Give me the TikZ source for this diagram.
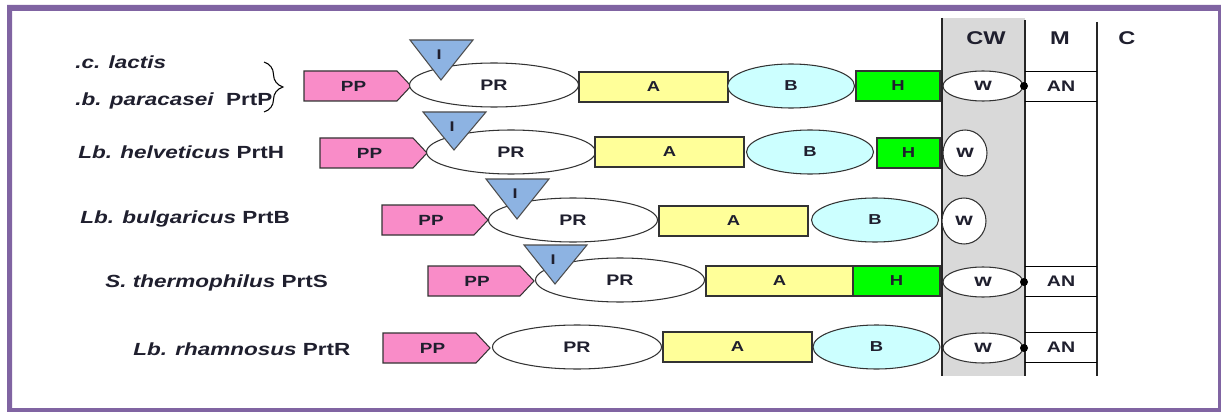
\documentclass[tikz,border=0pt]{standalone}
\usepackage{fontspec}
\setmainfont{Liberation Sans}[FakeStretch=1.28]
\usetikzlibrary{shapes.geometric,decorations.pathreplacing}

\definecolor{framepurple}{HTML}{8064A2}
\definecolor{ppink}{HTML}{F98CC8}
\definecolor{iblue}{HTML}{8DB3E2}
\definecolor{ayellow}{HTML}{FFFF99}
\definecolor{bcyan}{HTML}{CCFFFF}
\definecolor{hgreen}{HTML}{00FF00}
\definecolor{wallgray}{HTML}{D9D9D9}
\definecolor{ink}{HTML}{1F1F2E}

% pro-peptide: arrow-shaped box, left edge, end of the straight part, centre line
\newcommand\ppshape[4]{%
  \draw[ppfill] (#2,#4-15) -- (#3,#4-15) -- (#3+14,#4) -- (#3,#4+15) -- (#2,#4+15) -- cycle;
  \node[lbl] (#1) at ({(#2+#3)/2+3},#4) {PP};}
% insert domain: downward triangle, top-left corner, width, apex height
\newcommand\idomain[4]{%
  \draw[ifill] (#2,#3) -- (#2+63,#3) -- (#2+31,#3+#4) -- cycle;
  \node[lbl,font=\bfseries\fontsize{8}{9}\selectfont] (#1) at (#2+29,#3+15) {I};}

\begin{document}
\begin{tikzpicture}[x=0.02cm,y=-0.02cm,
  every node/.style={text=ink},
  lbl/.style={inner sep=0pt,font=\bfseries\fontsize{8.4}{9}\selectfont},
  part/.style={draw=black!80,line width=0.6pt,inner sep=0pt,
    font=\bfseries\fontsize{8.2}{9}\selectfont},
  ppfill/.style={draw=black!80,line width=0.6pt,fill=ppink},
  ifill/.style={draw=black!70,line width=0.6pt,fill=iblue},
  prdom/.style={part,ellipse,fill=white,minimum width=3.38cm,minimum height=0.88cm,
    font=\bfseries\fontsize{8.7}{9}\selectfont},
  adom/.style={part,rectangle,fill=ayellow,minimum width=2.98cm,minimum height=0.6cm},
  bdom/.style={part,ellipse,fill=bcyan,minimum width=2.54cm,minimum height=0.88cm},
  hdom/.style={part,rectangle,fill=hgreen,minimum height=0.6cm},
  wdom/.style={part,ellipse,fill=white,minimum width=1.6cm,minimum height=0.6cm,
    font=\bfseries\fontsize{10}{11}\selectfont},
  wround/.style={part,ellipse,fill=white,minimum width=0.88cm,minimum height=0.92cm,
    font=\bfseries\fontsize{10}{11}\selectfont},
  anbox/.style={inner sep=0pt,font=\bfseries\fontsize{8.7}{9}\selectfont,
    minimum width=1.44cm,minimum height=0.58cm},
  anchordot/.style={circle,fill=black,inner sep=0pt,minimum size=0.16cm},
  species/.style={anchor=west,inner sep=0pt,font=\bfseries\fontsize{10}{12}\selectfont},
  header/.style={inner sep=0pt,font=\bfseries\fontsize{10.5}{12}\selectfont},
  layer/.style={draw=black!85,line width=1.2pt}]

\useasboundingbox (0,0) rectangle (1221,412);
\fill[white] (0,0) rectangle (1221,412);
\fill[framepurple,even odd rule] (7,5) rectangle (1226,418) (12,11) rectangle (1218,408);

% cell envelope: cell wall band, membrane and cytoplasm
\fill[wallgray] (942,18) rectangle (1025,376);
\draw[layer] (942,18) -- (942,376);
\draw[layer] (1025,20) -- (1025,376);
\draw[layer] (1097,22) -- (1097,376);
\node[header] (cw) at (986,38) {CW};
\node[header] (mem) at (1060,38) {M};
\node[header] (cyt) at (1127,38) {C};

% species names
\node[species] (s1a) at (75,62) {\itshape .c. lactis};
\node[species] (s1b) at (75,101) {\itshape .b. paracasei\upshape\ \ PrtP};
\node[species] (s2) at (78,152) {\itshape Lb. helveticus\upshape\ PrtH};
\node[species] (s3) at (80,219) {\itshape Lb. bulgaricus\upshape\ PrtB};
\node[species] (s4) at (105,283) {\itshape S. thermophilus\upshape\ PrtS};
\node[species] (s5) at (133,349) {\itshape Lb. rhamnosus\upshape\ PrtR};
\coordinate (brtop) at (264,62);
\coordinate (brbot) at (264,112);
\draw[black,line width=0.6pt,decorate,decoration={brace,amplitude=0.38cm}] (brtop) -- (brbot);

% PrtP
\ppshape{pp1}{304}{397}{86}
\node[prdom] (pr1) at (494,85) {PR};
\idomain{i1}{410}{40}{40}
\node[adom] (a1) at (653.5,87) {A};
\node[bdom] (b1) at (791,86) {B};
\node[hdom,minimum width=1.68cm] (h1) at (898,86) {H};
\node[wdom] (w1) at (983,86) {w};
\node[anbox] (an1) at (1061,86.5) {AN};
\draw[line width=0.7pt] (an1.north west) -- (an1.north east) (an1.south west) -- (an1.south east);
\node[anchordot] (d1) at (1024,86) {};

% PrtH
\ppshape{pp2}{320}{413}{153}
\node[prdom] (pr2) at (511,152) {PR};
\idomain{i2}{423}{112}{38}
\node[adom] (a2) at (669.5,152) {A};
\node[bdom] (b2) at (810,152) {B};
\node[hdom,minimum width=1.26cm] (h2) at (908.5,153) {H};
\node[wround] (w2) at (965,153) {w};

% PrtB
\ppshape{pp3}{382}{474}{220}
\node[prdom] (pr3) at (573,220) {PR};
\idomain{i3}{486}{179}{40}
\node[adom] (a3) at (733.5,221) {A};
\node[bdom] (b3) at (875,220) {B};
\node[wround] (w3) at (964,221) {w};

% PrtS
\ppshape{pp4}{428}{520}{281}
\node[prdom] (pr4) at (620,280) {PR};
\idomain{i4}{524}{245}{39}
\node[adom,minimum width=2.94cm] (a4) at (779.5,281) {A};
\node[hdom,minimum width=1.74cm] (h4) at (896.5,281) {H};
\node[wdom] (w4) at (983,282) {w};
\node[anbox] (an4) at (1061,281.5) {AN};
\draw[line width=0.7pt] (an4.north west) -- (an4.north east) (an4.south west) -- (an4.south east);
\node[anchordot] (d4) at (1024,282) {};

% PrtR
\ppshape{pp5}{383}{476}{348}
\node[prdom] (pr5) at (577,347) {PR};
\node[adom] (a5) at (737.5,347) {A};
\node[bdom] (b5) at (876.5,347) {B};
\node[wdom] (w5) at (983,348) {w};
\node[anbox] (an5) at (1061,347.5) {AN};
\draw[line width=0.7pt] (an5.north west) -- (an5.north east) (an5.south west) -- (an5.south east);
\node[anchordot] (d5) at (1024,348) {};
\end{tikzpicture}
\end{document}
